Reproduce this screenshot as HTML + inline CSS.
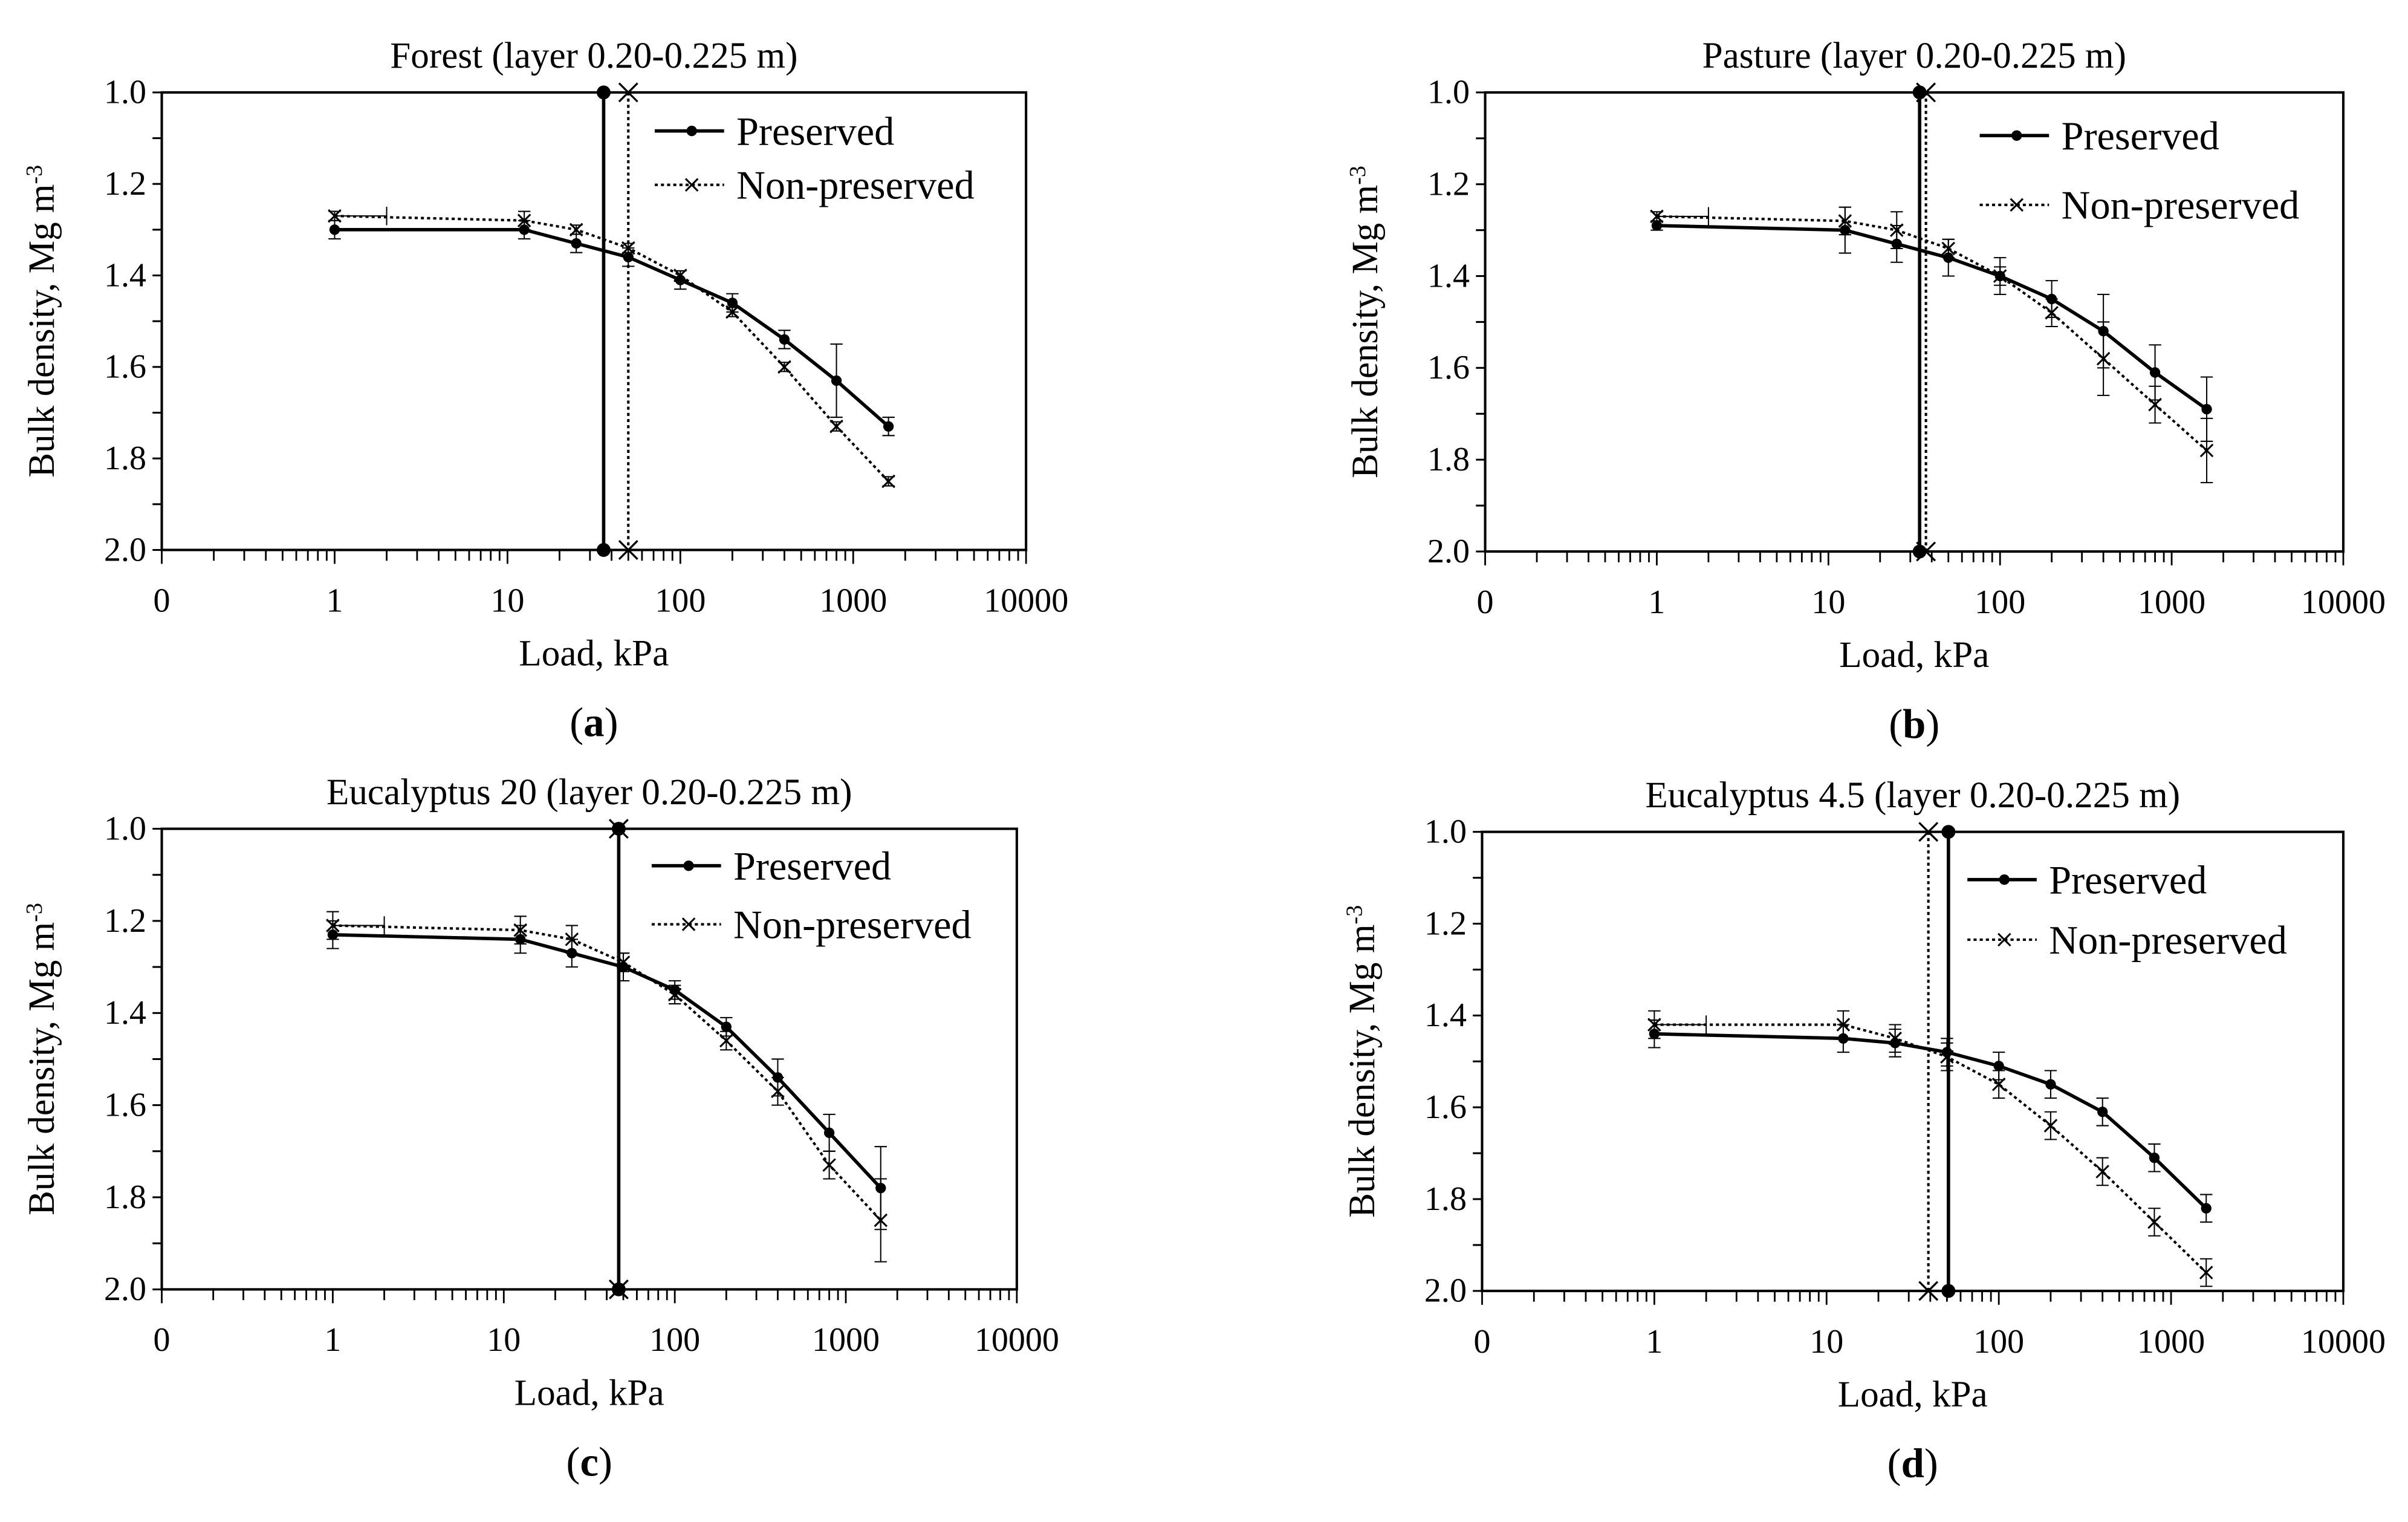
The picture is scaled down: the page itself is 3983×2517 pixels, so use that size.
<!DOCTYPE html>
<html><head><meta charset="utf-8"><style>
html,body{margin:0;padding:0;background:#fff}
svg{display:block}
text{font-family:"Liberation Serif",serif;fill:#000}
</style></head><body>
<svg id="fig" width="3983" height="2517" viewBox="0 0 1563 988" preserveAspectRatio="none" xmlns="http://www.w3.org/2000/svg"></svg>
<script>
const loads = [1, 12.5, 25, 50, 100, 200, 400, 800, 1600];
const xTickLabels = ["0","1","10","100","1000","10000"];
const yTickLabels = ["1.0","1.2","1.4","1.6","1.8","2.0"];
const titles = ["Forest (layer 0.20-0.225  m)","Pasture (layer 0.20-0.225  m)","Eucalyptus 20 (layer 0.20-0.225  m)","Eucalyptus 4.5 (layer 0.20-0.225  m)"];
const panelLetters = ["a","b","c","d"];
const presA = [1.30,1.30,1.33,1.36,1.41,1.46,1.54,1.63,1.73];
const presErrA = [0.02,0.02,0.02,0.02,0.02,0.02,0.02,0.08,0.02];
const nonA = [1.27,1.28,1.30,1.34,1.40,1.48,1.60,1.73,1.85];
const nonErrA = [0.01,0.02,0.01,0.01,0.01,0.01,0.01,0.01,0.01];
const presB = [1.29,1.30,1.33,1.36,1.40,1.45,1.52,1.61,1.69];
const presErrB = [0.01,0.05,0.04,0.04,0.04,0.04,0.08,0.06,0.07];
const nonB = [1.27,1.28,1.30,1.34,1.40,1.48,1.58,1.68,1.78];
const nonErrB = [0.01,0.03,0.04,0.02,0.02,0.03,0.08,0.04,0.07];
const presC = [1.23,1.24,1.27,1.30,1.35,1.43,1.54,1.66,1.78];
const presErrC = [0.03,0.03,0.03,0.03,0.02,0.02,0.04,0.04,0.09];
const nonC = [1.21,1.22,1.24,1.29,1.36,1.46,1.57,1.73,1.85];
const nonErrC = [0.03,0.03,0.03,0.02,0.02,0.02,0.03,0.03,0.09];
const presD = [1.44,1.45,1.46,1.48,1.51,1.55,1.61,1.71,1.82];
const presErrD = [0.03,0.03,0.03,0.03,0.03,0.03,0.03,0.03,0.03];
const nonD = [1.42,1.42,1.45,1.49,1.55,1.64,1.74,1.85,1.96];
const nonErrD = [0.03,0.03,0.03,0.03,0.03,0.03,0.03,0.03,0.03];
const vlinePres = [36, 34, 47, 51];
const vlineNon = [50, 37, 47, 39];

const panels = [
 {x0:105,x1:666,y0:60,y1:357,pres:presA,pe:presErrA,non:nonA,ne:nonErrA,lg:[425,85,120]},
 {x0:964,x1:1521,y0:60,y1:358,pres:presB,pe:presErrB,non:nonB,ne:nonErrB,lg:[1285,88,133]},
 {x0:105,x1:660,y0:538,y1:837,pres:presC,pe:presErrC,non:nonC,ne:nonErrC,lg:[423,562,600]},
 {x0:962,x1:1521,y0:540,y1:838,pres:presD,pe:presErrD,non:nonD,ne:nonErrD,lg:[1277,571,610]}
];
const NS="http://www.w3.org/2000/svg";
const svg=document.getElementById('fig');
function el(tag,attrs,parent){const e=document.createElementNS(NS,tag);for(const k in attrs)e.setAttribute(k,attrs[k]);(parent||svg).appendChild(e);return e;}
function txt(s,attrs,parent){const e=el('text',attrs,parent);e.textContent=s;return e;}

panels.forEach((p,i)=>{
  const g=el('g',{});
  
  
  const X=v=>p.x0+(Math.log10(v)+1)/5*(p.x1-p.x0);
  const Y=v=>p.y0+(v-1)*(p.y1-p.y0);
  const cx=(p.x0+p.x1)/2;
  const t=txt(titles[i],{x:cx,y:p.y0-16,'font-size':24,'text-anchor':'middle'},g);
  
  
  const fr=el('rect',{x:p.x0,y:p.y0,width:p.x1-p.x0,height:p.y1-p.y0,fill:'none',stroke:'#000','stroke-width':1.6},g);
  
  
  for(let k=0;k<=10;k++){const v=1+k*0.1;el('line',{x1:p.x0-6,x2:p.x0,y1:Y(v),y2:Y(v),stroke:'#000','stroke-width':1.2},g);}
  yTickLabels.forEach(s=>{const l=txt(s,{x:p.x0-10,y:Y(parseFloat(s))+7,'font-size':22,'text-anchor':'end'},g);
    
    });
  for(let d=-1;d<4;d++){for(let m=1;m<10;m++){const v=m*Math.pow(10,d);const len=m==1?9:7;
    el('line',{x1:X(v),x2:X(v),y1:p.y1,y2:p.y1+len,stroke:'#000','stroke-width':1.1},g);}}
  el('line',{x1:p.x1,x2:p.x1,y1:p.y1,y2:p.y1+9,stroke:'#000','stroke-width':1.1},g);
  xTickLabels.forEach((s,k)=>{const l=txt(s,{x:p.x0+k*(p.x1-p.x0)/5,y:p.y1+40,'font-size':22,'text-anchor':'middle'},g);
    
    });
  const xt=txt('Load,  kPa',{x:cx,y:p.y1+75,'font-size':24,'text-anchor':'middle'},g);
  
  
  const ym=(p.y0+p.y1)/2, yx=p.x0-70;
  const yt=el('text',{x:yx,y:ym,'font-size':24,'text-anchor':'middle',transform:`rotate(-90 ${yx} ${ym})`},g);
  yt.innerHTML='Bulk density,  Mg m<tspan dy="-8" font-size="15">-3</tspan>';
  
  
  const pl=txt('(',{x:cx,y:p.y1+121,'font-size':27,'text-anchor':'middle'},g);
  pl.innerHTML='(<tspan font-weight="bold">'+panelLetters[i]+'</tspan>)';
  
  
  const vp=X(vlinePres[i]), vn=X(vlineNon[i]);
  const l1=el('line',{x1:vn,x2:vn,y1:p.y0,y2:p.y1,stroke:'#000','stroke-width':1.6,'stroke-dasharray':'2,2'},g);
  
  
  const l2=el('line',{x1:vp,x2:vp,y1:p.y0,y2:p.y1,stroke:'#000','stroke-width':2.2},g);
  
  
  [p.y0,p.y1].forEach(yy=>{el('circle',{cx:vp,cy:yy,r:4.5,fill:'#000'},g);
    el('path',{d:`M${vn-6},${yy-6}L${vn+6},${yy+6}M${vn-6},${yy+6}L${vn+6},${yy-6}`,stroke:'#000','stroke-width':1.3,fill:'none'},g);});
  el('line',{x1:X(1),x2:X(2),y1:Y(p.non[0]),y2:Y(p.non[0]),stroke:'#000','stroke-width':0.8},g);
  el('line',{x1:X(2),x2:X(2),y1:Y(p.non[0])-6,y2:Y(p.non[0])+6,stroke:'#000','stroke-width':0.8},g);
  [[p.pres,p.pe],[p.non,p.ne]].forEach(([vals,errs])=>{
    vals.forEach((v,k)=>{const x=X(loads[k]),ya=Y(v-errs[k]),yb=Y(v+errs[k]);
      const eb=el('path',{d:`M${x},${ya}L${x},${yb}M${x-4},${ya}L${x+4},${ya}M${x-4},${yb}L${x+4},${yb}`,stroke:'#000','stroke-width':0.8,fill:'none'},g);
      
      });
  });
  const ptsN=loads.map((l,k)=>X(l)+','+Y(p.non[k])).join(' ');
  const sn=el('polyline',{points:ptsN,fill:'none',stroke:'#000','stroke-width':1.6,'stroke-dasharray':'2,2'},g);
  
  
  const ptsP=loads.map((l,k)=>X(l)+','+Y(p.pres[k])).join(' ');
  const sp=el('polyline',{points:ptsP,fill:'none',stroke:'#000','stroke-width':2.2},g);
  
  
  loads.forEach((l,k)=>{
    const c=el('circle',{cx:X(l),cy:Y(p.pres[k]),r:3.4,fill:'#000'},g);
    
    
    const x=X(l),y=Y(p.non[k]);
    const m=el('path',{d:`M${x-4},${y-4}L${x+4},${y+4}M${x-4},${y+4}L${x+4},${y-4}`,stroke:'#000','stroke-width':1.2,fill:'none'},g);
    
    
  });
  const [lx,ly1,ly2]=p.lg;
  const lg=el('g',{},g);
  
  
  el('line',{x1:lx,x2:lx+45,y1:ly1,y2:ly1,stroke:'#000','stroke-width':2.2},lg);
  el('circle',{cx:lx+24,cy:ly1,r:3.4,fill:'#000'},lg);
  txt('Preserved',{x:lx+53,y:ly1+9,'font-size':26},lg);
  el('line',{x1:lx,x2:lx+45,y1:ly2,y2:ly2,stroke:'#000','stroke-width':1.6,'stroke-dasharray':'2,2'},lg);
  el('path',{d:`M${lx+20},${ly2-4}L${lx+28},${ly2+4}M${lx+20},${ly2+4}L${lx+28},${ly2-4}`,stroke:'#000','stroke-width':1.2},lg);
  txt('Non-preserved',{x:lx+53,y:ly2+9,'font-size':26},lg);
});
</script>
</body></html>
